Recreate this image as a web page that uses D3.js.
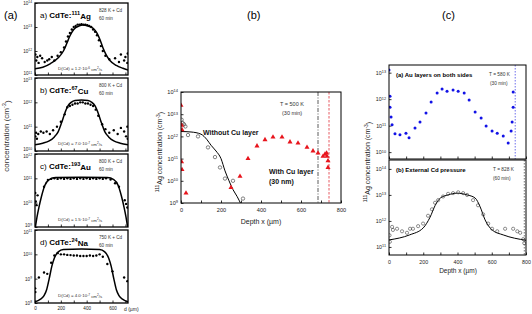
<!DOCTYPE html>
<html><head><meta charset="utf-8">
<script src="https://cdn.jsdelivr.net/npm/d3@7"></script>
<style>body{margin:0;background:#fff}svg{display:block}text{font-family:"Liberation Sans",Arial,sans-serif}</style>
</head><body><svg id="c" width="532" height="314"></svg>
<script>
// ---------- Panel (a) data: [depth µm, concentration cm^-3] ----------
const agCurve = [[0,1.8e11],[60,2.1e11],[120,3.0e11],[180,5.2e11],[220,1.0e12],[245,2.0e12],[270,4.2e12],[300,7.9e12],[340,1.1e13],[370,1.2e13],[410,1.1e13],[450,8.9e12],[480,5.6e12],[505,2.8e12],[525,1.4e12],[550,7.1e11],[580,4.0e11],[630,2.5e11],[680,1.9e11],[720,1.6e11]];
const agDots = [[3,7.1e11],[10,4.0e11],[18,5.6e11],[28,3.2e11],[40,6.3e11],[55,5.0e11],[75,3.5e11],[95,4.0e11],[110,4.5e11],[130,5.6e11],[150,4.0e11],[175,6.3e11],[200,8.9e11],[225,1.4e12],[240,2.5e12],[255,4.0e12],[270,5.6e12],[285,7.9e12],[300,1.0e13],[315,1.1e13],[330,1.26e13],[345,1.26e13],[360,1.3e13],[375,1.26e13],[390,1.26e13],[405,1.2e13],[420,1.1e13],[435,1.0e13],[450,7.9e12],[465,6.3e12],[480,4.5e12],[495,2.8e12],[510,1.6e12],[525,1.0e12],[545,6.3e11],[575,4.5e11],[620,5.0e11],[650,3.5e11],[665,7.1e11],[690,4.0e11],[700,5.6e11],[715,3.2e11],[718,7.9e11]];
const cuCurve = [[0,1.8e10],[60,2.1e10],[110,2.6e10],[150,3.8e10],[180,6.3e10],[205,1.4e11],[230,3.5e11],[255,7.1e11],[280,1.0e12],[310,1.2e12],[360,1.26e12],[410,1.2e12],[440,1.0e12],[465,7.1e11],[490,3.5e11],[515,1.4e11],[540,6.3e10],[570,3.8e10],[610,2.6e10],[660,2.1e10],[720,1.8e10]];
const cuDots = [[2,4.0e10],[8,5.6e10],[15,3.2e10],[25,5.0e10],[45,6.3e10],[65,5.6e10],[90,6.3e10],[115,5.0e10],[140,7.1e10],[170,1.0e11],[200,1.6e11],[230,3.2e11],[250,6.3e11],[270,7.1e11],[290,7.9e11],[310,8.9e11],[330,8.9e11],[350,1.0e12],[370,1.0e12],[390,8.9e11],[410,8.9e11],[430,7.9e11],[450,7.1e11],[470,5.0e11],[490,2.8e11],[520,1.26e11],[545,7.9e10],[575,5.6e10],[610,7.1e10],[640,5.0e10],[665,8.9e10],[690,6.3e10],[705,4.0e10],[715,1.0e11],[718,3.2e10]];
const auCurve = [[0,7.9e8],[15,2.5e9],[30,6.3e9],[50,1.8e10],[75,5.0e10],[110,8.9e10],[160,1.07e11],[360,1.12e11],[560,1.07e11],[610,8.9e10],[645,5.0e10],[670,1.8e10],[690,6.3e9],[705,2.5e9],[720,7.9e8]];
const auDots = [[2,2.5e10],[6,1.12e10],[12,7.9e9],[20,2.0e10],[70,4.5e10],[100,8.5e10],[125,9.5e10],[150,1.0e11],[175,9.5e10],[200,1.0e11],[225,9.5e10],[250,1.0e11],[275,9.5e10],[300,1.0e11],[325,9.5e10],[350,1.0e11],[375,9.5e10],[400,1.0e11],[425,9.5e10],[450,1.0e11],[475,9.5e10],[500,1.0e11],[525,9.5e10],[550,1.0e11],[585,8.9e10],[620,6.3e10],[650,4.5e10],[695,1.26e10],[705,8.9e9],[715,6.3e9]];
const naCurve = [[0,1.12e8],[40,1.41e8],[70,2.0e8],[90,3.5e8],[110,1.0e9],[130,3.2e9],[150,7.1e9],[180,1.26e10],[220,1.58e10],[360,1.66e10],[500,1.58e10],[540,1.26e10],[570,7.1e9],[590,3.2e9],[610,1.0e9],[630,3.5e8],[650,2.0e8],[680,1.41e8],[720,1.12e8]];
const naDots = [[1,4.0e8],[3,2.8e8],[30,1.12e9],[70,1.78e9],[95,1.58e9],[125,4.5e9],[150,8.9e9],[175,1.12e10],[200,1.0e10],[225,1.0e10],[250,9.5e9],[275,9.3e9],[300,8.9e9],[325,8.9e9],[350,8.5e9],[375,8.5e9],[400,8.5e9],[425,8.9e9],[450,8.5e9],[475,8.9e9],[500,1.0e10],[525,7.9e9],[560,4.0e9],[600,2.0e9],[690,1.12e9],[715,7.9e8]];
const aXTicks = [0,100,200,300,400,500,600,700];
const aXLabels = [0,200,400,600];
const aYTicksAg = [1e11,1e12,1e13,1e14];
const aYTicksCu = [1e10,1e11,1e12,1e13];
const aYTicksAu = [1e9,1e10,1e11,1e12];
const aYTicksNa = [1e8,1e9,1e10,1e11];

// ---------- Panel (b) data ----------
const bFitCurve = [[0,1.66e12],[50,1.58e12],[100,1.26e12],[130,7.1e11],[150,4.0e11],[175,2.2e11],[200,1.0e11],[220,2.8e10],[240,1.0e10],[260,4.0e9],[280,2.0e9],[300,8.9e8]];
const bNoCu = [[3,5.6e12],[8,4.0e12],[15,3.5e12],[22,2.8e12],[35,1.15e12],[85,1.0e12],[135,3.2e11],[170,1.17e11],[195,4.0e10],[220,1.26e10],[260,1.0e10],[310,1.58e9]];
const bWithCu = [[0,2.5e13],[3,3.2e12],[5,2.0e12],[3,7.1e10],[5,3.2e10],[25,2.8e9],[250,5.0e9],[295,1.58e10],[335,1.0e11],[380,3.7e11],[420,7.1e11],[460,9.3e11],[505,9.3e11],[545,5.6e11],[585,5.0e11],[630,3.2e11],[660,2.2e11],[685,1.78e11],[710,1.26e11],[720,1.58e11],[728,1.78e11],[730,1.26e11],[735,7.9e10],[735,4.0e10]];
const bVLines = [685,740];
const bXTicks = [0,100,200,300,400,500,600,700,800];
const bXLabels = [0,200,400,600,800];
const bYTicks = [1e9,1e10,1e11,1e12,1e13,1e14];

// ---------- Panel (c) data ----------
const cAuPts = [[0,1.26e13],[6,1.3e12],[6,5.0e11],[12,2.1e11],[18,1.07e11],[35,4.9e10],[64,4.5e10],[99,5.2e10],[117,3.5e10],[152,8.1e10],[181,1.38e11],[216,3.0e11],[246,7.8e11],[281,1.7e12],[310,2.4e12],[339,2.0e12],[374,2.2e12],[404,2.0e12],[439,1.7e12],[468,9.3e11],[503,3.3e11],[538,1.95e11],[567,9.8e10],[602,6.3e10],[632,5.2e10],[667,4.1e10],[696,2.2e10],[713,6.3e10],[719,1.38e11],[725,5.0e11],[725,1.86e12]];
const cAuVLine = [737];
const cCdCurve = [[0,1.86e11],[120,2.9e11],[200,5.4e11],[240,1.4e12],[270,4.0e12],[300,7.6e12],[345,1.0e13],[398,1.17e13],[456,1.0e13],[503,7.6e12],[532,3.5e12],[561,1.1e12],[602,4.5e11],[667,2.9e11],[800,1.8e11]];
const cCdPts = [[3,2.8e11],[5,1.58e11],[18,5.9e11],[23,4.5e11],[47,5.0e11],[76,4.0e11],[105,3.5e11],[123,5.0e11],[140,5.0e11],[170,6.3e11],[199,7.9e11],[228,1.58e12],[251,2.8e12],[269,5.0e12],[287,6.3e12],[316,8.7e12],[345,1.1e13],[374,1.17e13],[404,1.26e13],[433,1.17e13],[456,1.0e13],[491,6.3e12],[520,4.0e12],[550,1.78e12],[579,7.9e11],[602,5.0e11],[632,4.0e11],[678,5.0e11],[725,5.0e11],[749,4.0e11],[766,3.5e11],[784,2.0e11],[790,1.4e11]];
const cCdVLine = [790];
const cXTicks = [0,100,200,300,400,500,600,700,800];
const cXLabels = [0,200,400,600,800];
const cYTicksA = [1e10,1e11,1e12,1e13];
const cYTicksB = [1e11,1e12,1e13,1e14];

// ---------- drawing ----------
const svg = d3.select('#c');
let clipId = 0;

function supLabels(sel, fs){
  sel.each(function(d){
    const t = d3.select(this);
    const e = Math.round(Math.log10(d));
    t.text(null);
    t.append('tspan').text('10');
    t.append('tspan').attr('dy','-0.45em').attr('font-size', fs*0.72).text(e);
  });
}

function frame(cfg){
  const x = d3.scaleLinear().domain(cfg.xd).range([cfg.l, cfg.r]);
  const y = d3.scaleLog().domain(cfg.yd).range([cfg.b, cfg.t]);
  const g = svg.append('g');
  const ya = g.append('g').attr('transform',`translate(${cfg.l},0)`)
    .call(d3.axisLeft(y).tickValues(cfg.yt).tickSize(-cfg.tk).tickPadding(cfg.yp).tickFormat(d=>d));
  ya.select('.domain').remove();
  ya.selectAll('line').attr('stroke','#000').attr('stroke-width',cfg.tw);
  ya.selectAll('text').attr('font-size',cfg.fs).attr('fill','#222').attr('font-family','Liberation Sans, Arial, sans-serif');
  supLabels(ya.selectAll('.tick text'), cfg.fs);
  if (cfg.nudge) {
    ya.selectAll('.tick text').attr('dy', d => d === cfg.yt[0] && cfg.nudge.bottom ? '-0.05em' : (d === cfg.yt[cfg.yt.length-1] && cfg.nudge.top ? '0.7em' : '0.32em'));
  }
  const xa = g.append('g').attr('transform',`translate(0,${cfg.b})`)
    .call(d3.axisBottom(x).tickValues(cfg.xt).tickSize(-cfg.tk).tickPadding(cfg.xp)
      .tickFormat(d => (cfg.xl && cfg.xl.includes(d)) ? d : ''));
  xa.select('.domain').remove();
  xa.selectAll('line').attr('stroke','#000').attr('stroke-width',cfg.tw);
  xa.selectAll('text').attr('font-size',cfg.fs).attr('fill','#222').attr('font-family','Liberation Sans, Arial, sans-serif');
  const id = 'clip' + (clipId++);
  svg.append('clipPath').attr('id',id).append('rect')
    .attr('x',cfg.l).attr('y',cfg.t).attr('width',cfg.r-cfg.l).attr('height',cfg.b-cfg.t);
  const inner = g.append('g').attr('clip-path',`url(#${id})`);
  g.append('rect').attr('x',cfg.l).attr('y',cfg.t).attr('width',cfg.r-cfg.l).attr('height',cfg.b-cfg.t)
    .attr('fill','none').attr('stroke','#000').attr('stroke-width',cfg.sw);
  return {x,y,g,inner};
}

function rich(parent, x, y, parts, attrs){
  const t = parent.append('text').attr('x',x).attr('y',y);
  Object.entries(attrs||{}).forEach(([k,v])=>t.attr(k,v));
  parts.forEach(p=>{
    const s = t.append('tspan').text(p[0]);
    if(p[1]==='sup'){ s.attr('dy','-0.45em').attr('font-size','70%'); }
    if(p[1]==='after'){ s.attr('dy','0.45em'); }
    if(p[2]) s.attr('font-weight',p[2]);
  });
  return t;
}

function line(fr, data, attrs){
  const p = fr.inner.append('path').datum(data)
    .attr('d', d3.line().x(d=>fr.x(d[0])).y(d=>fr.y(d[1])).curve(d3.curveMonotoneX))
    .attr('fill','none');
  Object.entries(attrs).forEach(([k,v])=>p.attr(k,v));
}

// ----- Panel (a) -----
const subs = [
  {lab:'a)', iso:'111', el:'Ag', cond:'828 K + Cd', D:'1.2', De:'-6', yd:[1e11,1e14], yt:aYTicksAg, t:3, b:75, curve:agCurve, dots:agDots},
  {lab:'b)', iso:'67', el:'Cu', cond:'800 K + Cd', D:'7.0', De:'-7', yd:[1e10,1e13], yt:aYTicksCu, t:78, b:151, curve:cuCurve, dots:cuDots},
  {lab:'c)', iso:'193', el:'Au', cond:'800 K + Cd', D:'1.5', De:'-7', yd:[1e9,1e12], yt:aYTicksAu, t:154, b:227, curve:auCurve, dots:auDots},
  {lab:'d)', iso:'24', el:'Na', cond:'750 K + Cd', D:'4.0', De:'-7', yd:[1e8,1e11], yt:aYTicksNa, t:230, b:303, curve:naCurve, dots:naDots}
];
subs.forEach((s,i)=>{
  const fr = frame({l:35, r:128, t:s.t, b:s.b, xd:[0,720], yd:s.yd, yt:s.yt, xt:aXTicks,
    xl: i===3 ? aXLabels : null, tk:2.5, tw:0.8, yp:3, xp:4, fs:4.6, sw:1.3,
    nudge:{top: i>0, bottom: i<3}});
  line(fr, s.curve, {stroke:'#000','stroke-width':1.5});
  fr.inner.selectAll('circle.d').data(s.dots).enter().append('circle')
    .attr('cx',d=>fr.x(d[0])).attr('cy',d=>fr.y(d[1])).attr('r',1.2).attr('fill','#000');
  rich(svg, 40, s.t+15, [[s.lab+' '],['CdTe:',null,'bold'],[s.iso,'sup','bold'],[s.el,'after','bold']], {'font-size':8});
  svg.append('text').attr('x',99).attr('y',s.t+9).attr('font-size',4.6).attr('fill','#333').text(s.cond);
  svg.append('text').attr('x',99).attr('y',s.t+17).attr('font-size',4.6).attr('fill','#333').text('60 min');
  rich(svg, 58, s.t+67, [['D(Cd) = '+s.D+'·10'],[s.De,'sup'],[' cm',  'after'],['2','sup'],['/s','after']], {'font-size':4.4,'fill':'#333'});
});
svg.append('text').attr('x',124).attr('y',311).attr('font-size',5).attr('fill','#222').text('d (µm)');
rich(svg, 0, 0, [['concentration (cm'],['-3','sup'],[')','after']], {'font-size':8,'fill':'#333','transform':'translate(9,136) rotate(-90)','text-anchor':'middle'});
svg.append('text').attr('x',4).attr('y',19).attr('font-size',11).attr('font-family','Liberation Serif, Times New Roman, serif').text('(a)');

// ----- Panel (b) -----
const fb = frame({l:181, r:341, t:92, b:203, xd:[0,800], yd:[1e9,1e14], yt:bYTicks, xt:bXTicks, xl:bXLabels,
  tk:2.5, tw:0.8, yp:3, xp:5, fs:5.6, sw:1});
line(fb, bFitCurve, {stroke:'#000','stroke-width':1});
fb.inner.selectAll('line.v').data(bVLines).enter().append('line')
  .attr('x1',d=>fb.x(d)).attr('x2',d=>fb.x(d)).attr('y1',92).attr('y2',203)
  .attr('stroke',(d,i)=> i===0 ? '#333' : '#e0303a').attr('stroke-width',0.8)
  .attr('stroke-dasharray',(d,i)=> i===0 ? '4,1.5,1,1.5' : '2.5,1.5');
fb.inner.selectAll('circle.o').data(bNoCu).enter().append('circle')
  .attr('cx',d=>fb.x(d[0])).attr('cy',d=>fb.y(d[1])).attr('r',1.7).attr('fill','none').attr('stroke','#333').attr('stroke-width',0.6);
fb.inner.selectAll('path.tri').data(bWithCu).enter().append('path')
  .attr('d', d3.symbol(d3.symbolTriangle).size(11))
  .attr('transform',d=>`translate(${fb.x(d[0])},${fb.y(d[1])})`).attr('fill','#e8141c');
svg.append('text').attr('x',280).attr('y',106).attr('font-size',5.5).attr('fill','#333').text('T = 500 K');
svg.append('text').attr('x',282).attr('y',115).attr('font-size',5.5).attr('fill','#333').text('(30 min)');
svg.append('text').attr('x',203).attr('y',135).attr('font-size',7).attr('font-weight','bold').attr('fill','#111').text('Without Cu layer');
svg.append('text').attr('x',269).attr('y',174).attr('font-size',7).attr('font-weight','bold').attr('fill','#111').text('With Cu layer');
svg.append('text').attr('x',269).attr('y',184).attr('font-size',7).attr('font-weight','bold').attr('fill','#111').text('(30 nm)');
svg.append('text').attr('x',261).attr('y',224).attr('font-size',7).attr('text-anchor','middle').attr('fill','#222').text('Depth x  (µm)');
rich(svg, 0, 0, [['111','sup'],['Ag concentration  (cm','after'],['-3','sup'],[')','after']], {'font-size':7,'fill':'#222','transform':'translate(161,152) rotate(-90)','text-anchor':'middle'});
svg.append('text').attr('x',247).attr('y',19).attr('font-size',11).attr('font-family','Liberation Serif, Times New Roman, serif').text('(b)');

// ----- Panel (c) -----
const fca = frame({l:389, r:526, t:65, b:159, xd:[0,800], yd:[5.5e9,1.95e13], yt:cYTicksA, xt:cXTicks, xl:null,
  tk:2.5, tw:0.8, yp:3, xp:4, fs:5.3, sw:1});
fca.inner.selectAll('line.v').data(cAuVLine).enter().append('line')
  .attr('x1',d=>fca.x(d)).attr('x2',d=>fca.x(d)).attr('y1',65).attr('y2',159)
  .attr('stroke','#4a4ae8').attr('stroke-width',0.8).attr('stroke-dasharray','1.5,1.5');
fca.inner.selectAll('circle.b').data(cAuPts).enter().append('circle')
  .attr('cx',d=>fca.x(d[0])).attr('cy',d=>fca.y(d[1])).attr('r',1.5).attr('fill','#1212e6');
svg.append('text').attr('x',396).attr('y',77).attr('font-size',6).attr('font-weight','bold').text('(a)  Au layers on both sides');
svg.append('text').attr('x',489).attr('y',76).attr('font-size',4.8).attr('fill','#333').text('T = 580 K');
svg.append('text').attr('x',490).attr('y',85).attr('font-size',4.8).attr('fill','#333').text('(30 min)');

const fcb = frame({l:389, r:526, t:160, b:255, xd:[0,800], yd:[4.9e10,2.2e14], yt:cYTicksB, xt:cXTicks, xl:cXLabels,
  tk:2.5, tw:0.8, yp:3, xp:5, fs:5.3, sw:1});
fcb.inner.selectAll('line.v').data(cCdVLine).enter().append('line')
  .attr('x1',d=>fcb.x(d)).attr('x2',d=>fcb.x(d)).attr('y1',160).attr('y2',255)
  .attr('stroke','#555').attr('stroke-width',0.8).attr('stroke-dasharray','1.5,1.5');
line(fcb, cCdCurve, {stroke:'#000','stroke-width':1});
fcb.inner.selectAll('circle.o').data(cCdPts).enter().append('circle')
  .attr('cx',d=>fcb.x(d[0])).attr('cy',d=>fcb.y(d[1])).attr('r',1.6).attr('fill','none').attr('stroke','#333').attr('stroke-width',0.55);
svg.append('text').attr('x',396).attr('y',172).attr('font-size',6).attr('font-weight','bold').text('(b)  External Cd pressure');
svg.append('text').attr('x',493).attr('y',171).attr('font-size',4.8).attr('fill','#333').text('T = 828 K');
svg.append('text').attr('x',493).attr('y',180).attr('font-size',4.8).attr('fill','#333').text('(60 min)');
svg.append('text').attr('x',458).attr('y',273).attr('font-size',6.5).attr('text-anchor','middle').attr('fill','#222').text('Depth x  (µm)');
rich(svg, 0, 0, [['111','sup'],['Ag concentration  (cm','after'],['-3','sup'],[')','after']], {'font-size':7,'fill':'#222','transform':'translate(369,162) rotate(-90)','text-anchor':'middle'});
svg.append('text').attr('x',442).attr('y',19).attr('font-size',11).attr('font-family','Liberation Serif, Times New Roman, serif').text('(c)');
</script></body></html>
